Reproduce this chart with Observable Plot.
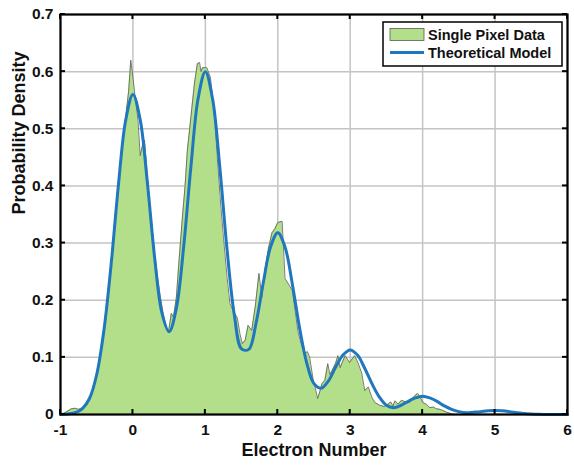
<!DOCTYPE html>
<html>
<head>
<meta charset="utf-8">
<script src="https://cdn.jsdelivr.net/npm/d3@7"></script>
<script src="https://cdn.jsdelivr.net/npm/@observablehq/plot@0.6"></script>
<style>
  html, body { margin: 0; padding: 0; background: #fff; }
  #chart svg { display: block; }
</style>
</head>
<body>
<div id="chart"></div>
<script>
// ---- Data ----
const xTicks = [-1, 0, 1, 2, 3, 4, 5, 6];
const yTicks = [0, 0.1, 0.2, 0.3, 0.4, 0.5, 0.6, 0.7];
const seriesNames = ["Single Pixel Data", "Theoretical Model"];

// Single pixel histogram
const histX = [-1.00,-0.95,-0.90,-0.85,-0.80,-0.75,-0.70,-0.65,-0.60,-0.55,-0.50,-0.45,-0.40,-0.35,-0.30,-0.25,-0.20,-0.15,-0.10,-0.06,-0.03,
  0.00,0.04,0.07,0.10,0.13,0.16,0.21,0.25,0.30,0.34,0.38,0.42,0.46,0.49,0.53,0.56,0.60,0.64,0.68,0.72,0.75,0.80,0.85,0.89,0.92,0.94,0.96,
  1.02,1.07,1.12,1.17,1.21,1.25,1.30,1.34,1.39,1.44,1.48,1.51,1.55,1.59,1.64,1.69,1.74,1.78,1.82,1.87,1.92,1.96,
  2.00,2.06,2.10,2.15,2.20,2.24,2.28,2.33,2.37,2.41,2.44,2.49,2.52,2.55,2.58,2.61,2.65,2.69,2.72,2.75,2.80,2.83,2.86,2.93,2.99,
  3.06,3.11,3.16,3.20,3.25,3.30,3.34,3.41,3.47,3.52,3.56,3.59,3.62,3.66,3.71,3.76,3.82,3.87,3.93,3.97,
  4.00,4.05,4.10,4.15,4.19,4.24,4.28,4.33,4.38,4.42];
const histY = [0.000,0.002,0.006,0.010,0.011,0.009,0.012,0.015,0.028,0.045,0.072,0.105,0.150,0.205,0.268,0.335,0.405,0.465,0.520,0.565,0.620,
  0.590,0.545,0.515,0.453,0.470,0.480,0.400,0.345,0.280,0.240,0.205,0.175,0.152,0.144,0.177,0.170,0.205,0.275,0.340,0.400,0.460,0.520,0.580,0.614,0.616,0.600,0.607,
  0.607,0.590,0.530,0.440,0.370,0.310,0.240,0.194,0.180,0.170,0.140,0.124,0.130,0.156,0.147,0.190,0.247,0.205,0.250,0.290,0.318,0.325,
  0.336,0.338,0.238,0.228,0.217,0.180,0.144,0.120,0.107,0.110,0.100,0.060,0.045,0.028,0.040,0.054,0.060,0.089,0.070,0.077,0.090,0.103,0.082,0.103,0.091,
  0.103,0.090,0.072,0.042,0.048,0.030,0.021,0.016,0.014,0.018,0.022,0.015,0.024,0.018,0.025,0.022,0.021,0.030,0.037,0.030,
  0.021,0.018,0.012,0.013,0.010,0.009,0.007,0.004,0.002,0.000];

// Theoretical model
const modelX = [-1.0,-0.9,-0.8,-0.7,-0.6,-0.5,-0.4,-0.3,-0.2,-0.1,0.0,0.1,0.2,0.3,0.4,0.5,0.6,0.7,0.8,0.9,
  1.0,1.1,1.2,1.3,1.4,1.5,1.6,1.7,1.8,1.9,2.0,2.1,2.2,2.3,2.4,2.5,2.6,2.7,2.8,2.9,
  3.0,3.1,3.2,3.3,3.4,3.5,3.6,3.7,3.8,3.9,4.0,4.1,4.2,4.3,4.4,4.5,4.6,4.7,4.8,4.9,
  5.0,5.1,5.2,5.3,5.4,5.5,5.6,5.7,5.8,5.9,6.0];
const modelY = [0.000,0.001,0.003,0.010,0.028,0.070,0.148,0.264,0.402,0.515,0.560,0.516,0.405,0.274,0.178,0.145,0.186,0.293,0.433,0.553,
  0.600,0.552,0.432,0.288,0.174,0.115,0.114,0.160,0.231,0.293,0.318,0.293,0.229,0.152,0.090,0.054,0.046,0.059,0.083,0.104,
  0.113,0.104,0.081,0.054,0.031,0.016,0.012,0.016,0.023,0.029,0.032,0.029,0.023,0.015,0.009,0.005,0.003,0.004,0.005,0.0064,
  0.007,0.0064,0.005,0.0033,0.0018,0.0009,0.0003,0.0001,0.0,0.0,0.0];

const hist = histX.map((x, i) => ({x, y: histY[i]}));
const model = modelX.map((x, i) => ({x, y: modelY[i]}));

const green = "#b3df8a";
const blue = "#1f77bd";
const FONT = "'Liberation Sans', Arial, Helvetica, sans-serif";

const W = 574, H = 465, mL = 60, mR = 7, mT = 14, mB = 51;
const tickLen = 5;

const chart = Plot.plot({
  width: W, height: H,
  marginLeft: mL, marginRight: mR, marginTop: mT, marginBottom: mB,
  style: {fontFamily: FONT, fontWeight: "bold", fontSize: "15.5px", color: "#111", background: "#fff"},
  x: {domain: [-1, 6]},
  y: {domain: [0, 0.7]},
  marks: [
    Plot.gridX(xTicks, {stroke: "#c4c4c4", strokeOpacity: 1, strokeWidth: 1.5}),
    Plot.gridY(yTicks, {stroke: "#c4c4c4", strokeOpacity: 1, strokeWidth: 1.5}),
    Plot.areaY(hist, {x: "x", y: "y", fill: green, curve: "linear"}),
    Plot.lineY(hist, {x: "x", y: "y", stroke: "#5a5a5a", strokeWidth: 0.8, curve: "linear"}),
    Plot.lineY(model, {x: "x", y: "y", stroke: blue, strokeWidth: 3, curve: "catmull-rom"}),
    Plot.frame({stroke: "#000", strokeWidth: 2.2}),
    Plot.axisX(xTicks, {tickSize: 0, tickPadding: 9, label: null, tickFormat: d => String(d), fontSize: 15.5, fontWeight: "bold"}),
    Plot.axisY(yTicks, {tickSize: 0, tickPadding: 7, label: null, tickFormat: d => d === 0 ? "0" : d.toFixed(1), fontSize: 15.5, fontWeight: "bold"}),
    Plot.text(["Electron Number"], {frameAnchor: "bottom", dy: 41, fontSize: 18, fontWeight: "bold", fill: "#111"}),
    Plot.text(["Probability Density"], {frameAnchor: "left", dx: -41, rotate: -90, fontSize: 18, fontWeight: "bold", fill: "#111"})
  ]
});

document.getElementById("chart").appendChild(chart);

const svg = d3.select(chart);
const sx = chart.scale("x"), sy = chart.scale("y");
const x0 = sx.apply(-1), x1 = sx.apply(6), y0 = sy.apply(0), y1 = sy.apply(0.7);

// inward ticks on all four sides, positioned with Plot's scales
const tg = svg.append("g").attr("stroke", "#000").attr("stroke-width", 2);
xTicks.forEach(t => {
  const px = sx.apply(t);
  tg.append("line").attr("x1", px).attr("x2", px).attr("y1", y0).attr("y2", y0 - tickLen);
  tg.append("line").attr("x1", px).attr("x2", px).attr("y1", y1).attr("y2", y1 + tickLen);
});
yTicks.forEach(t => {
  const py = sy.apply(t);
  tg.append("line").attr("x1", x0).attr("x2", x0 + tickLen).attr("y1", py).attr("y2", py);
  tg.append("line").attr("x1", x1).attr("x2", x1 - tickLen).attr("y1", py).attr("y2", py);
});

// Legend (inside plot, top-right)
const lg = svg.append("g").attr("font-family", FONT).attr("font-weight", "bold")
  .attr("font-size", 14.5).attr("text-anchor", "start");
lg.append("rect").attr("x", 383).attr("y", 22).attr("width", 179).attr("height", 44)
  .attr("fill", "#fff").attr("stroke", "#000").attr("stroke-width", 1.5);
lg.append("rect").attr("x", 390).attr("y", 28.5).attr("width", 34).attr("height", 12)
  .attr("fill", green).attr("stroke", "#5a5a5a").attr("stroke-width", 0.8);
lg.append("line").attr("x1", 390).attr("x2", 424).attr("y1", 52.5).attr("y2", 52.5)
  .attr("stroke", blue).attr("stroke-width", 3);
lg.append("text").attr("x", 428).attr("y", 34.5).attr("dy", "0.35em").attr("fill", "#111").text(seriesNames[0]);
lg.append("text").attr("x", 428).attr("y", 52.5).attr("dy", "0.35em").attr("fill", "#111").text(seriesNames[1]);
</script>
</body>
</html>
